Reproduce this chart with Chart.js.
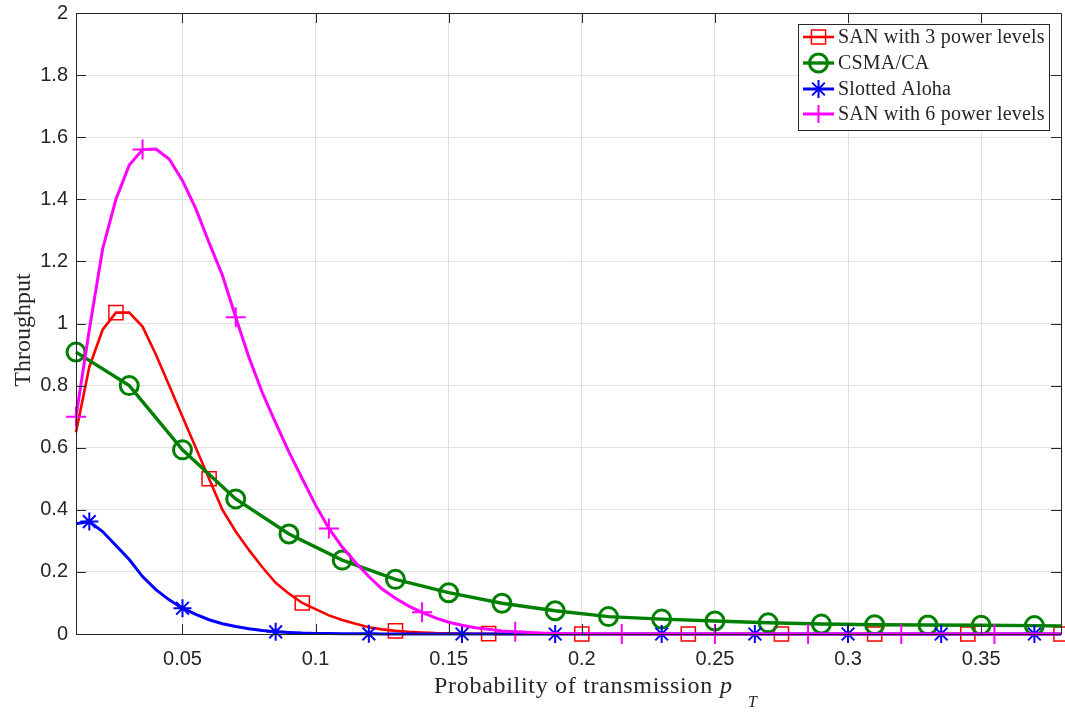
<!DOCTYPE html>
<html lang="en">
<head>
  <meta charset="UTF-8">
  <title>Throughput vs probability of transmission</title>
  <script src="https://cdn.jsdelivr.net/npm/chart.js"></script>
  <style>
    body { margin: 0; background: #fff; }
    canvas { display: block; }
  </style>
</head>
<body>
  <canvas id="chart" width="1065" height="713"></canvas>

  <script>
    // probability of transmission grid (fine part, shared by three curves)
    const pT = [0.01, 0.015, 0.02, 0.025, 0.03, 0.035, 0.04, 0.045, 0.05, 0.055,
                0.06, 0.065, 0.07, 0.075, 0.08, 0.085, 0.09, 0.095, 0.1, 0.105,
                0.11, 0.115, 0.12, 0.125, 0.13, 0.135, 0.14, 0.145, 0.15, 0.155,
                0.16, 0.165, 0.17, 0.175, 0.18, 0.185, 0.19, 0.195, 0.2];

    const san3 = [0.65, 0.86, 0.98, 1.035, 1.035, 0.99, 0.9, 0.8, 0.7, 0.6,
                  0.5, 0.4, 0.33, 0.27, 0.215, 0.165, 0.13, 0.1, 0.08, 0.06,
                  0.045, 0.033, 0.022, 0.015, 0.01, 0.007, 0.005, 0.003, 0.002, 0.0015,
                  0.001, 0.001, 0.0005, 0.0005, 0, 0, 0, 0, 0];
    const san3TailX = [0.24, 0.275, 0.31, 0.345, 0.38];
    const san3TailY = [0, 0, 0, 0, 0];
    const san3Marks = [0.025, 0.06, 0.095, 0.13, 0.165, 0.2, 0.24, 0.275, 0.31, 0.345, 0.38];

    const aloha = [0.355, 0.362, 0.33, 0.285, 0.24, 0.185, 0.143, 0.11, 0.083, 0.063,
                   0.046, 0.033, 0.024, 0.017, 0.011, 0.007, 0.005, 0.003, 0.002, 0.0015,
                   0.001, 0.0005, 0.0005, 0, 0, 0, 0, 0, 0, 0,
                   0, 0, 0, 0, 0, 0, 0, 0, 0];
    const alohaTailX = [0.23, 0.265, 0.3, 0.335, 0.37, 0.38];
    const alohaTailY = [0, 0, 0, 0, 0, 0];
    const alohaMarks = [0.015, 0.05, 0.085, 0.12, 0.155, 0.19, 0.23, 0.265, 0.3, 0.335, 0.37];

    const san6 = [0.7, 0.98, 1.24, 1.4, 1.51, 1.56, 1.562, 1.53, 1.46, 1.37,
                  1.26, 1.155, 1.02, 0.89, 0.777, 0.68, 0.586, 0.5, 0.415, 0.34,
                  0.28, 0.23, 0.185, 0.145, 0.115, 0.09, 0.07, 0.052, 0.038, 0.028,
                  0.02, 0.015, 0.01, 0.007, 0.005, 0.003, 0.002, 0.001, 0.001];
    const san6TailX = [0.215, 0.25, 0.285, 0.32, 0.355, 0.38];
    const san6TailY = [0, 0, 0, 0, 0, 0];
    const san6Marks = [0.01, 0.035, 0.07, 0.105, 0.14, 0.175, 0.215, 0.25, 0.285, 0.32, 0.355];

    const csmaX = [0.01, 0.03, 0.05, 0.07, 0.09, 0.11, 0.13, 0.15, 0.17, 0.19,
                   0.21, 0.23, 0.25, 0.27, 0.29, 0.31, 0.33, 0.35, 0.37, 0.38];
    const csma = [0.908, 0.8, 0.593, 0.435, 0.322, 0.238, 0.176, 0.133, 0.099, 0.075,
                  0.056, 0.048, 0.042, 0.036, 0.032, 0.03, 0.029, 0.028, 0.027, 0.026];
    const csmaMarks = csmaX.slice(0, 19);

    const xTicks = [0.05, 0.1, 0.15, 0.2, 0.25, 0.3, 0.35];
    const xTickLabels = ['0.05', '0.1', '0.15', '0.2', '0.25', '0.3', '0.35'];
    const yTicks = [0, 0.2, 0.4, 0.6, 0.8, 1, 1.2, 1.4, 1.6, 1.8, 2];
    const yTickLabels = ['0', '0.2', '0.4', '0.6', '0.8', '1', '1.2', '1.4', '1.6', '1.8', '2'];

    const seriesNames = ['SAN with 3 power levels', 'CSMA/CA', 'Slotted Aloha', 'SAN with 6 power levels'];

    const pts = (xs, ys) => xs.map((x, i) => ({ x: x, y: ys[i] }));
    const isMark = (x, list) => list.some(m => Math.abs(m - x) < 1e-9);

    const AXIS = '#262626';
    const SERIF = '"Liberation Serif", "Times New Roman", serif';

    const datasets = [
      {
        label: seriesNames[0],
        data: pts(pT.concat(san3TailX), san3.concat(san3TailY)),
        borderColor: '#ff0000', borderWidth: 2.6,
        pointStyle: 'rect', pointBorderWidth: 1.5,
        pointRadius: c => isMark(c.raw.x, san3Marks) ? 10 : 0,
        order: 3
      },
      {
        label: seriesNames[1],
        data: pts(csmaX, csma),
        borderColor: '#008000', borderWidth: 3.4,
        pointStyle: 'circle', pointBorderWidth: 3,
        pointRadius: c => isMark(c.raw.x, csmaMarks) ? 9 : 0,
        order: 2
      },
      {
        label: seriesNames[2],
        data: pts(pT.concat(alohaTailX), aloha.concat(alohaTailY)),
        borderColor: '#0000ff', borderWidth: 3,
        pointStyle: 'star', pointBorderWidth: 2,
        pointRadius: c => isMark(c.raw.x, alohaMarks) ? 9 : 0,
        order: 1
      },
      {
        label: seriesNames[3],
        data: pts(pT.concat(san6TailX), san6.concat(san6TailY)),
        borderColor: '#ff00ff', borderWidth: 3,
        pointStyle: 'cross', pointBorderWidth: 2,
        pointRadius: c => isMark(c.raw.x, san6Marks) ? 10 : 0,
        order: 0
      }
    ];
    datasets.forEach(d => {
      d.showLine = true;
      d.tension = 0;
      d.clip = false;
      d.pointBackgroundColor = 'rgba(0,0,0,0)';
      d.pointBorderColor = d.borderColor;
      d.backgroundColor = 'rgba(0,0,0,0)';
    });

    // box with inward ticks, like the matlab axes
    const frame = {
      id: 'frame',
      afterDatasetsDraw(chart) {
        const { ctx, chartArea: a, scales } = chart;
        ctx.save();
        ctx.strokeStyle = AXIS;
        ctx.lineWidth = 1;
        ctx.beginPath();
        ctx.rect(Math.round(a.left) + 0.5, Math.round(a.top) + 0.5,
                 Math.round(a.right - a.left), Math.round(a.bottom - a.top));
        xTicks.forEach(v => {
          const px = Math.round(scales.x.getPixelForValue(v)) + 0.5;
          ctx.moveTo(px, a.bottom); ctx.lineTo(px, a.bottom - 10);
          ctx.moveTo(px, a.top); ctx.lineTo(px, a.top + 10);
        });
        yTicks.forEach(v => {
          const py = Math.round(scales.y.getPixelForValue(v)) + 0.5;
          ctx.moveTo(a.left, py); ctx.lineTo(a.left + 10, py);
          ctx.moveTo(a.right, py); ctx.lineTo(a.right - 10, py);
        });
        ctx.stroke();
        ctx.restore();
      }
    };

    // legend box and axis titles
    const extras = {
      id: 'extras',
      afterDraw(chart) {
        const ctx = chart.ctx;
        ctx.save();
        ctx.fillStyle = '#fff';
        ctx.fillRect(798, 24, 251, 106);
        ctx.strokeStyle = AXIS;
        ctx.lineWidth = 1;
        ctx.strokeRect(798.5, 24.5, 251, 106);

        const rows = [37, 63, 89, 114];
        chart.data.datasets.forEach((d, i) => {
          const y = rows[i];
          ctx.strokeStyle = d.borderColor;
          ctx.lineWidth = d.borderWidth;
          ctx.beginPath();
          ctx.moveTo(803, y); ctx.lineTo(834, y);
          ctx.stroke();
          ctx.fillStyle = 'rgba(0,0,0,0)';
          ctx.lineWidth = d.pointBorderWidth;
          Chart.helpers.drawPoint(ctx, {
            pointStyle: d.pointStyle, radius: d.pointStyle === 'rect' ? 10 : 9,
            rotation: 0, borderWidth: d.pointBorderWidth
          }, 818.5, y);
          ctx.fillStyle = AXIS;
          ctx.font = '20px ' + SERIF;
          ctx.letterSpacing = '0.2px';
          ctx.textAlign = 'left';
          ctx.textBaseline = 'middle';
          ctx.fillText(d.label, 838, y + 1);
        });

        ctx.fillStyle = AXIS;
        ctx.font = '24px ' + SERIF;
        ctx.letterSpacing = '0.7px';
        ctx.textAlign = 'left';
        ctx.textBaseline = 'alphabetic';
        ctx.fillText('Probability of transmission', 434, 693);
        ctx.letterSpacing = '0px';
        ctx.font = 'italic 24px ' + SERIF;
        ctx.fillText('p', 720, 693);
        ctx.font = 'italic 16px ' + SERIF;
        ctx.fillText('T', 748, 707);

        ctx.translate(30, 330);
        ctx.rotate(-Math.PI / 2);
        ctx.font = '24px ' + SERIF;
        ctx.textAlign = 'center';
        ctx.fillText('Throughput', 0, 0);
        ctx.restore();
      }
    };

    const noPad = s => { s.paddingLeft = 0; s.paddingRight = 0; s.paddingTop = 0; s.paddingBottom = 0; };

    new Chart(document.getElementById('chart'), {
      type: 'scatter',
      data: { datasets: datasets },
      options: {
        responsive: false,
        animation: false,
        events: [],
        layout: { autoPadding: false, padding: { left: 0, right: 4, top: 13, bottom: 0 } },
        plugins: { legend: { display: false }, tooltip: { enabled: false } },
        scales: {
          x: {
            type: 'linear', min: 0.01, max: 0.38,
            afterBuildTicks: s => { s.ticks = xTicks.map(v => ({ value: v })); },
            afterFit: s => { s.height = 79; noPad(s); },
            grid: { color: '#e0e0e0', drawTicks: false },
            border: { display: false },
            ticks: {
              color: AXIS, padding: 13,
              font: { family: '"Liberation Sans", Arial, sans-serif', size: 20 },
              callback: (v, i) => xTickLabels[i]
            }
          },
          y: {
            type: 'linear', min: 0, max: 2,
            afterBuildTicks: s => { s.ticks = yTicks.map(v => ({ value: v })); },
            afterFit: s => { s.width = 76; noPad(s); },
            grid: { color: '#e0e0e0', drawTicks: false },
            border: { display: false },
            ticks: {
              color: AXIS, padding: 8,
              font: { family: '"Liberation Sans", Arial, sans-serif', size: 20 },
              callback: (v, i) => yTickLabels[i]
            }
          }
        }
      },
      plugins: [frame, extras]
    });
  </script>
</body>
</html>
